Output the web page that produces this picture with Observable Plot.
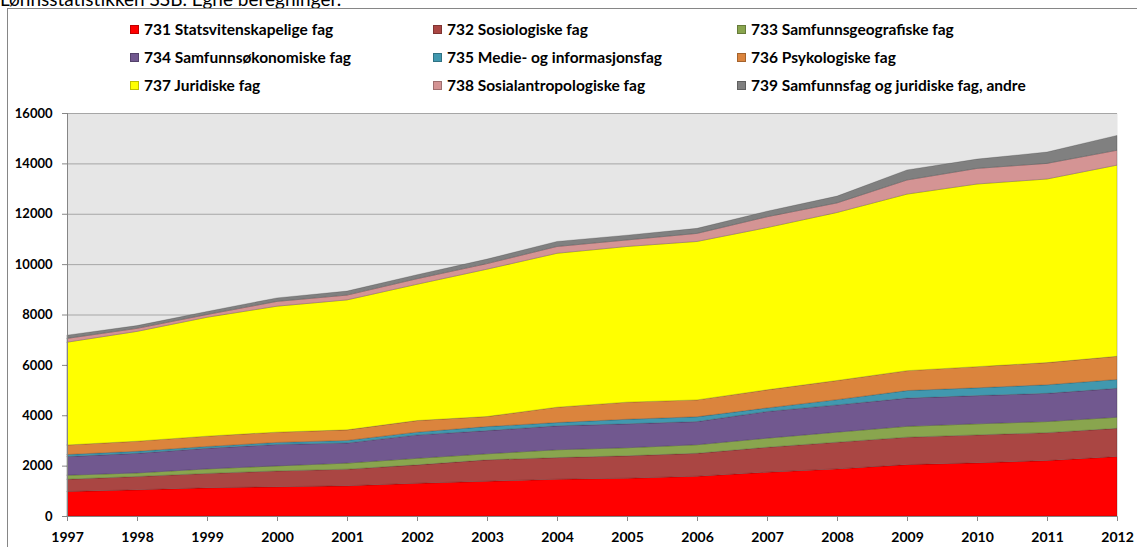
<!DOCTYPE html>
<html><head><meta charset="utf-8">
<script src="https://cdn.jsdelivr.net/npm/d3@7"></script>
<script src="https://cdn.jsdelivr.net/npm/@observablehq/plot@0.6"></script>
<style>
body{margin:0;background:#fff;font-family:Lato,"Open Sans",sans-serif;}
#wrap{position:relative;width:1137px;height:547px;overflow:hidden;}
#title{position:absolute;left:0;top:-11px;font-size:19px;line-height:20px;color:#000;white-space:nowrap;}
#frame{position:absolute;left:7px;top:8px;width:1200px;height:700px;border-left:1px solid #868686;border-top:1px solid #868686;}
#chart{position:absolute;left:0;top:0;}
.item{position:absolute;font-weight:bold;font-size:15.5px;line-height:18px;white-space:nowrap;display:flex;align-items:center;color:#000;}
.sw{width:9px;height:9px;margin-right:5px;box-sizing:border-box;border:1px solid rgba(0,0,0,0.25);}
g[aria-label="x-axis"] text, g[aria-label="x-axis tick label"] text, g[aria-label="x-axis tick label"]{font-size:14px;}
g[aria-label="y-axis"] text, g[aria-label="y-axis tick label"] text, g[aria-label="y-axis tick label"]{font-size:13px;}
g[aria-label="x-axis"] line, g[aria-label="x-axis"] path, g[aria-label="x-axis tick"] path,
g[aria-label="y-axis"] line, g[aria-label="y-axis"] path, g[aria-label="y-axis tick"] path{stroke:#868686;}
</style>
</head><body>
<div id="wrap">
  <div id="title">Lønnsstatistikken SSB. Egne beregninger.</div>
  <div id="frame"></div>
  <div id="chart"></div>
  <div id="legend"></div>
</div>
<script>
const years = [1997,1998,1999,2000,2001,2002,2003,2004,2005,2006,2007,2008,2009,2010,2011,2012];
const series = [
  "731 Statsvitenskapelige fag",
  "732 Sosiologiske fag",
  "733 Samfunnsgeografiske fag",
  "734 Samfunnsøkonomiske fag",
  "735 Medie- og informasjonsfag",
  "736 Psykologiske fag",
  "737 Juridiske fag",
  "738 Sosialantropologiske fag",
  "739 Samfunnsfag og juridiske fag, andre"
];
const colors = ["#ff0000","#aa4643","#89a54e","#71588f","#4198af","#db843d","#ffff00","#d49494","#808080"];

const v731 = [970,1040,1120,1160,1200,1300,1380,1460,1500,1580,1740,1870,2040,2110,2200,2360];
const v732 = [490,530,570,630,660,730,850,860,890,910,990,1060,1090,1110,1110,1120];
const v733 = [160,140,180,200,240,260,240,310,320,340,360,400,430,440,440,440];
const v734 = [740,780,820,850,800,930,920,950,950,920,1060,1080,1120,1120,1120,1150];
const v735 = [80,80,70,80,100,110,160,130,180,190,140,210,300,310,340,350];
const v736 = [380,400,410,410,420,460,400,610,680,670,720,760,790,840,880,920];
const v737 = [4080,4360,4720,5000,5160,5410,5850,6110,6180,6290,6440,6670,7010,7250,7290,7590];
const v738 = [150,120,110,190,190,220,220,270,260,320,430,380,560,620,620,590];
const v739 = [130,110,120,140,160,160,180,200,190,200,220,270,400,370,450,590];
const yTicks = [0,2000,4000,6000,8000,10000,12000,14000,16000];

const values = [v731,v732,v733,v734,v735,v736,v737,v738,v739];
const data = [];
series.forEach((s,i) => years.forEach((yr,j) => data.push({year: yr, series: s, value: values[i][j]})));

const chart = Plot.plot({
  width: 1137, height: 547,
  marginLeft: 67, marginRight: 20, marginTop: 113, marginBottom: 31,
  style: {fontFamily: "Lato, 'Open Sans', sans-serif", fontWeight: "bold", fontSize: "13px", background: "transparent", color: "#000"},
  x: {domain: [1997, 2012], ticks: years, tickFormat: d => String(d), label: null, tickSize: 5, tickPadding: 11},
  y: {domain: [0, 16000], ticks: yTicks, tickFormat: d => String(d), label: null, tickSize: 5, tickPadding: 10},
  color: {domain: series, range: colors},
  marks: [
    Plot.frame({fill: "#e6e6e6", stroke: "none"}),
    Plot.ruleY(yTicks.slice(1), {stroke: "#a6a6a6", strokeWidth: 1}),
    Plot.areaY(data, {x: "year", y: "value", z: "series", fill: "series", stroke: "#000", strokeOpacity: 0.22, strokeWidth: 0.8}),
    Plot.ruleX([1997], {stroke: "#868686"}),
    Plot.ruleY([0], {stroke: "#868686"})
  ]
});
document.getElementById("chart").appendChild(chart);

const legend = document.getElementById("legend");
const colX = [130, 433, 737];
const rowY = [29, 57, 85];
series.forEach((s,i) => {
  const it = document.createElement("div");
  it.className = "item";
  it.style.left = colX[i % 3] + "px";
  it.style.top = (rowY[Math.floor(i / 3)] - 9) + "px";
  const sw = document.createElement("span");
  sw.className = "sw";
  sw.style.background = colors[i];
  it.appendChild(sw);
  it.appendChild(document.createTextNode(s));
  legend.appendChild(it);
});
</script>
</body></html>
